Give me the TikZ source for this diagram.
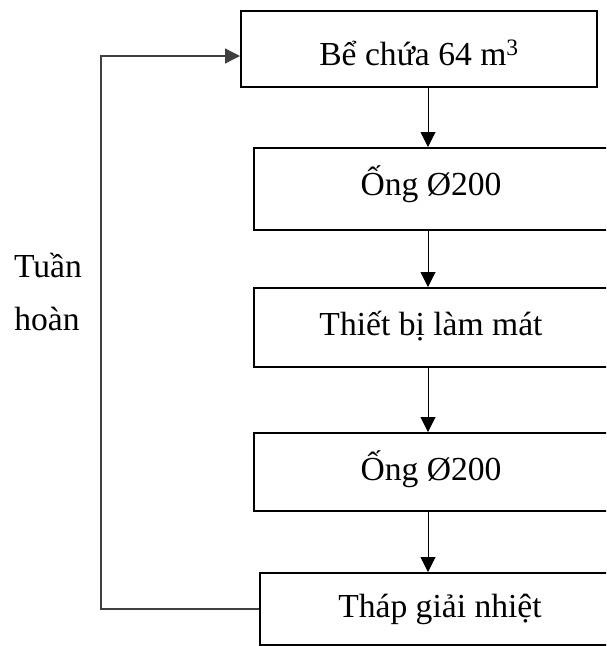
\documentclass[tikz,border=0pt]{standalone}
\usepackage{fontspec}
\setmainfont{Liberation Serif}
\usetikzlibrary{arrows.meta}
\begin{document}
\begin{tikzpicture}[x=1pt,y=-1pt,
  every node/.style={font=\fontsize{33.6}{53}\selectfont},
  stage/.style={draw=black,line width=2pt,inner sep=0pt,text depth=0pt,text height=16pt},
  flow/.style={line width=1pt,-{Triangle[width=15pt,length=15pt]}},
  loopline/.style={draw=black!75,line width=1.3pt,-{Triangle[width=15pt,length=15pt]}},
  caption/.style={anchor=base,inner sep=0pt}]
  \useasboundingbox (0,0) rectangle (606,646);
  \begin{scope}
    \clip (0,0) rectangle (606,646);
    % process stages
    \node[stage,minimum width=356pt,minimum height=76pt,text height=32pt] (b1) at (419,49) {Bể chứa 64 m\textsuperscript{3}};
    \node[stage,minimum width=354pt,minimum height=82pt,text height=12pt] (b2) at (431,189) {Ống Ø200};
    \node[stage,minimum width=354pt,minimum height=79pt,text height=15pt] (b3) at (431,327.5) {Thiết bị làm mát};
    \node[stage,minimum width=354pt,minimum height=78pt,text height=16pt] (b4) at (431,472) {Ống Ø200};
    \node[stage,minimum width=360pt,minimum height=72pt,text height=16pt] (b5) at (440,609) {Tháp giải nhiệt};
    % downward flow along one column
    \coordinate (col) at (428,0);
    \draw[flow] (b1.south -| col) -- (b2.north -| col);
    \draw[flow] (b2.south -| col) -- (b3.north -| col);
    \draw[flow] (b3.south -| col) -- (b4.north -| col);
    \draw[flow] (b4.south -| col) -- (b5.north -| col);
    % recirculation back to the tank
    \coordinate (turn) at (101,56);
    \draw[loopline] (b5.west) -| (turn) -- (b1.west |- turn);
  \end{scope}
  \node[caption] (t1) at (48,277) {Tuần};
  \node[caption] (t2) at (47,330) {hoàn};
\end{tikzpicture}
\end{document}
